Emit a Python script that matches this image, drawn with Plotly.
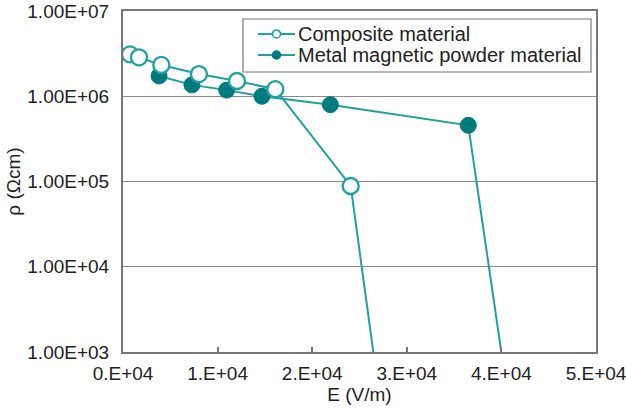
import plotly.graph_objects as go

# Data
comp_E = [740, 1690, 4050, 8030, 12050, 16100, 24070, 26460]
comp_rho = [3.1e6, 2.86e6, 2.33e6, 1.82e6, 1.51e6, 1.21e6, 8.86e4, 1.0e3]
metal_E = [3810, 7290, 10960, 14690, 21920, 36500, 39990]
metal_rho = [1.73e6, 1.36e6, 1.18e6, 1.0e6, 7.96e5, 4.56e5, 1.0e3]

x_ticks = [0, 10000, 20000, 30000, 40000, 50000]
x_ticktext = ["0.E+04", "1.E+04", "2.E+04", "3.E+04", "4.E+04", "5.E+04"]
y_ticks = [1e3, 1e4, 1e5, 1e6, 1e7]
y_ticktext = ["1.00E+03", "1.00E+04", "1.00E+05", "1.00E+06", "1.00E+07"]

names = ["Composite material", "Metal magnetic powder material"]

LINE = "#1fa0a2"
DARK = "#007b7d"
GRAY = "#777777"
FONT = "Liberation Sans, Arial, sans-serif"

fig = go.Figure()

# Metal (filled)
fig.add_trace(go.Scatter(
    x=metal_E, y=metal_rho, mode="lines+markers", name=names[1], showlegend=False,
    line=dict(color=LINE, width=2),
    marker=dict(size=[16] * (len(metal_E) - 1) + [0], color=DARK, opacity=1,
                line=dict(color=DARK, width=1)),
))
# Composite (open)
fig.add_trace(go.Scatter(
    x=comp_E, y=comp_rho, mode="lines+markers", name=names[0], showlegend=False,
    line=dict(color=LINE, width=2),
    marker=dict(size=[16] * (len(comp_E) - 1) + [0], color="white", opacity=1,
                line=dict(color=LINE, width=2.3)),
))

# Manual legend (box, sample lines, sample markers, labels) in paper coords
shapes = [dict(type="rect", xref="paper", yref="paper",
               x0=0.2537, x1=0.9894, y0=0.8211, y1=0.9765,
               line=dict(color=GRAY, width=1.2), fillcolor="white", layer="above")]
annotations = []
rows = [0.9326, 0.871]
fills = ["white", DARK]
edges = [LINE, DARK]
for name, yr, fc, ec in zip(names, rows, fills, edges):
    shapes.append(dict(type="line", xref="paper", yref="paper",
                       x0=0.2854, x1=0.3636, y0=yr, y1=yr,
                       line=dict(color=LINE, width=2), layer="above"))
    shapes.append(dict(type="circle", xref="paper", yref="paper",
                       xsizemode="pixel", ysizemode="pixel",
                       xanchor=0.3245, yanchor=yr,
                       x0=-4, x1=4, y0=-4, y1=4,
                       fillcolor=fc, line=dict(color=ec, width=1.5), layer="above"))
    annotations.append(dict(text=name, xref="paper", yref="paper",
                            x=0.3668, y=yr, xanchor="left", yanchor="middle",
                            showarrow=False, font=dict(size=20, color="#222222")))

fig.update_layout(
    width=626, height=409,
    margin=dict(l=123, r=30, t=11, b=57),
    paper_bgcolor="white", plot_bgcolor="white",
    font=dict(family=FONT, color="#222222", size=19),
    showlegend=False,
    shapes=shapes, annotations=annotations,
)

fig.update_xaxes(
    range=[0, 50000], tickvals=x_ticks, ticktext=x_ticktext,
    showgrid=False, zeroline=False,
    showline=True, linecolor=GRAY, linewidth=2, mirror=True,
    ticks="inside", ticklen=5, tickcolor=GRAY, tickwidth=1.5,
    tickfont=dict(size=19), ticklabeloverflow="allow", ticklabelstandoff=3,
    title=dict(text="E (V/m)", font=dict(size=19), standoff=0),
    automargin=False,
)
fig.update_yaxes(
    type="log", range=[3, 7], tickvals=y_ticks, ticktext=y_ticktext,
    showgrid=True, gridcolor="#8a8a8a", gridwidth=1.2, zeroline=False,
    showline=True, linecolor=GRAY, linewidth=2, mirror=True,
    ticks="", tickfont=dict(size=19), ticklabelstandoff=8,
    ticklabeloverflow="allow",
    title=dict(text="ρ (Ωcm)", font=dict(size=19), standoff=2),
    automargin=False,
)

fig.write_html("out.html", config={"displayModeBar": False},
               post_script="document.body.style.margin='0';")
